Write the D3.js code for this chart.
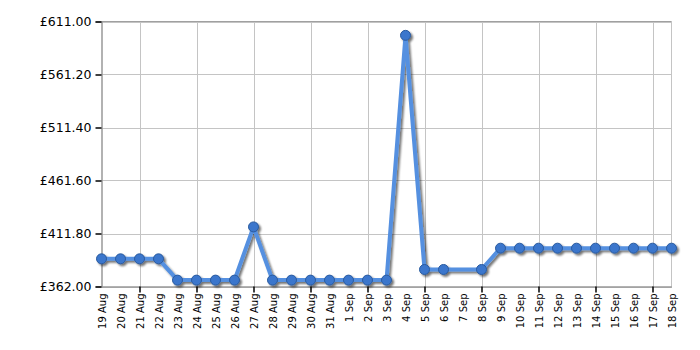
<!DOCTYPE html>
<html><head><meta charset="utf-8">
<script src="https://cdn.jsdelivr.net/npm/d3@7"></script>
<style>
html,body{margin:0;padding:0;background:#fff;}
text{font-family:"DejaVu Sans",Verdana,sans-serif;}
</style></head>
<body><svg id="c" width="700" height="350"></svg>
<script>
const categories = ["19 Aug","20 Aug","21 Aug","22 Aug","23 Aug","24 Aug","25 Aug","26 Aug","27 Aug","28 Aug","29 Aug","30 Aug","31 Aug","1 Sep","2 Sep","3 Sep","4 Sep","5 Sep","6 Sep","7 Sep","8 Sep","9 Sep","10 Sep","11 Sep","12 Sep","13 Sep","14 Sep","15 Sep","16 Sep","17 Sep","18 Sep"];
const prices = [388,388,388,388,368,368,368,368,418,368,368,368,368,368,368,368,598,378,378,null,378,398,398,398,398,398,398,398,398,398,398];
const yTicks = [362.00,411.80,461.60,511.40,561.20,611.00];

const svg = d3.select("#c");
const L = 101.5, R = 671.5, T = 21.5, B = 286.5;
const x = d3.scalePoint().domain(categories).range([L, R]);
const y = d3.scaleLinear().domain([362, 611]).range([B, T]);

const gridIdx = categories.map((c,i)=>i).filter(i => i % 3 === 2);

// grid
const g = svg.append("g");
g.selectAll("line.h").data(yTicks).join("line")
  .attr("x1", L).attr("x2", R).attr("y1", d=>Math.round(y(d))+0.5).attr("y2", d=>Math.round(y(d))+0.5)
  .attr("stroke", "#c4c4c4").attr("stroke-width", 1);
g.selectAll("line.v").data(gridIdx).join("line")
  .attr("x1", i=>Math.round(x(categories[i]))+0.5).attr("x2", i=>Math.round(x(categories[i]))+0.5)
  .attr("y1", T).attr("y2", B).attr("stroke", "#c4c4c4").attr("stroke-width", 1);
g.append("line").attr("x1", R).attr("x2", R).attr("y1", T).attr("y2", B).attr("stroke", "#c4c4c4");
g.append("line").attr("x1", L).attr("x2", R).attr("y1", T).attr("y2", T).attr("stroke", "#a0a0a0");

// axes
const yAxis = d3.axisLeft(y).tickValues(yTicks).tickFormat(d=>"£"+d3.format(".2f")(d)).tickSize(6).tickPadding(4);
const ya = svg.append("g").attr("transform", `translate(${L},0)`).call(yAxis);
ya.select(".domain").attr("stroke", "#999").attr("stroke-width", 1.5);
ya.selectAll(".tick line").attr("stroke", "#000").attr("stroke-width", 1.5);
ya.selectAll("text").attr("font-size", 12.5).attr("fill", "#000").style("font-family", '"DejaVu Sans",Verdana,sans-serif');

const xAxis = d3.axisBottom(x).tickSize(0).tickPadding(0);
const xa = svg.append("g").attr("transform", `translate(0,${B})`).call(xAxis);
xa.select(".domain").attr("stroke", "#999").attr("stroke-width", 1.5);
xa.selectAll(".tick text")
  .attr("transform", "rotate(-90)")
  .attr("x", -7).attr("y", 0).attr("dy", "0.35em")
  .attr("text-anchor", "end")
  .attr("font-size", 10).attr("fill", "#000")
  .style("font-family", '"DejaVu Sans",Verdana,sans-serif');
xa.selectAll(".tick").filter((d,i)=> i % 3 === 2).append("line")
  .attr("y1", 0).attr("y2", 6).attr("stroke", "#000").attr("stroke-width", 1.5);

// data
const pts = categories.map((c,i)=>({c, v: prices[i]})).filter(d=>d.v!==null);
const line = d3.line().x(d=>x(d.c)).y(d=>y(d.v));

const defs = svg.append("defs");
const f = defs.append("filter").attr("id","sh").attr("x","-20%").attr("y","-20%").attr("width","140%").attr("height","140%");
f.append("feGaussianBlur").attr("in","SourceAlpha").attr("stdDeviation",1.2);
f.append("feOffset").attr("dx",2).attr("dy",2).attr("result","ob");
f.append("feComponentTransfer").append("feFuncA").attr("type","linear").attr("slope",0.55);
const m = f.append("feMerge"); m.append("feMergeNode"); m.append("feMergeNode").attr("in","SourceGraphic");

const dg = svg.append("g").attr("filter","url(#sh)");
dg.append("path").datum(pts).attr("d", line).attr("fill","none")
  .attr("stroke","#5590e0").attr("stroke-width",4).attr("stroke-linejoin","round");
dg.selectAll("circle").data(pts).join("circle")
  .attr("cx", d=>x(d.c)).attr("cy", d=>y(d.v)).attr("r", 5)
  .attr("fill","#3a76cc").attr("stroke","#2a5a9e").attr("stroke-width",1);
</script></body></html>
